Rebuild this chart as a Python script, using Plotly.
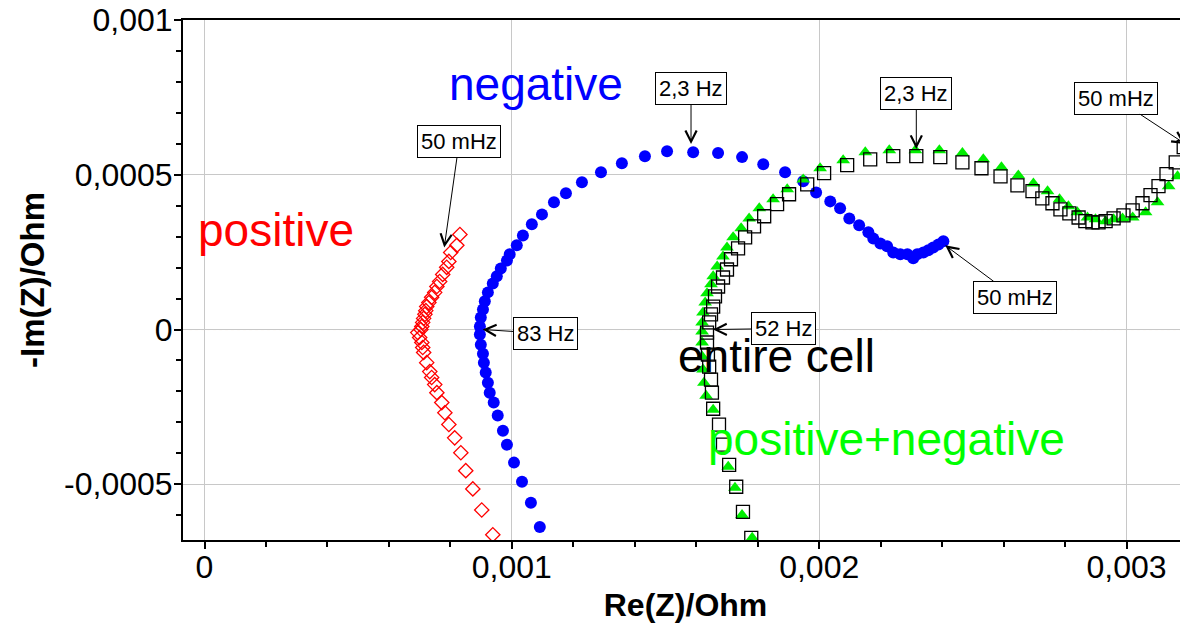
import numpy as np
import plotly.graph_objects as go

# ---- data, values in milli-Ohm ----
pos_re = [0.831, 0.821, 0.801, 0.795, 0.788, 0.775, 0.765, 0.756, 0.749, 0.739, 0.730,
          0.723, 0.720, 0.717, 0.713, 0.710, 0.707, 0.704, 0.694, 0.700, 0.707, 0.710,
          0.713, 0.723, 0.733, 0.739, 0.749, 0.756, 0.772, 0.782, 0.795, 0.814, 0.834,
          0.850, 0.873, 0.902, 0.938]
pos_im = [0.307, 0.272, 0.249, 0.220, 0.201, 0.178, 0.155, 0.139, 0.120, 0.104, 0.087,
          0.074, 0.061, 0.049, 0.036, 0.023, 0.010, 0.000, -0.010, -0.026, -0.042, -0.058,
          -0.074, -0.107, -0.136, -0.155, -0.178, -0.204, -0.236, -0.269, -0.307, -0.350, -0.398,
          -0.456, -0.515, -0.583, -0.663]

neg_re = [1.091, 1.062, 1.033, 1.007, 0.984, 0.971, 0.954, 0.941, 0.928, 0.922, 0.915,
          0.909, 0.906, 0.899, 0.896, 0.896, 0.899, 0.906, 0.912, 0.922, 0.938, 0.951,
          0.964, 0.984, 0.993, 1.016, 1.036, 1.065, 1.098, 1.137, 1.176, 1.228, 1.290,
          1.358, 1.433, 1.505, 1.590, 1.671, 1.749, 1.818, 1.889, 1.948, 1.990, 2.036,
          2.068, 2.098, 2.130, 2.160, 2.176, 2.199, 2.221, 2.241, 2.264, 2.287, 2.306,
          2.319, 2.339, 2.355, 2.371, 2.388, 2.404]
neg_im = [-0.638, -0.560, -0.492, -0.430, -0.372, -0.327, -0.278, -0.236, -0.204, -0.172, -0.139,
          -0.107, -0.078, -0.049, -0.016, 0.010, 0.039, 0.065, 0.091, 0.120, 0.149, 0.172,
          0.197, 0.223, 0.243, 0.272, 0.304, 0.340, 0.372, 0.411, 0.440, 0.476, 0.508,
          0.537, 0.560, 0.576, 0.573, 0.570, 0.557, 0.534, 0.508, 0.479, 0.443, 0.414,
          0.392, 0.359, 0.337, 0.314, 0.294, 0.278, 0.269, 0.249, 0.243, 0.243, 0.230,
          0.243, 0.249, 0.256, 0.265, 0.275, 0.285]

cell_re = [1.779, 1.752, 1.730, 1.707, 1.687, 1.674, 1.655, 1.651, 1.648, 1.642, 1.638,
           1.635, 1.635, 1.642, 1.648, 1.655, 1.661, 1.671, 1.687, 1.700, 1.713, 1.736,
           1.759, 1.788, 1.821, 1.863, 1.902, 1.961, 2.016, 2.091, 2.166, 2.241, 2.316,
           2.394, 2.466, 2.528, 2.590, 2.645, 2.694, 2.726, 2.759, 2.785, 2.814, 2.844,
           2.866, 2.889, 2.909, 2.932, 2.958, 2.990, 3.020, 3.052, 3.078, 3.104, 3.130,
           3.160, 3.186]
cell_im = [-0.673, -0.589, -0.508, -0.437, -0.372, -0.307, -0.256, -0.204, -0.162, -0.120, -0.081,
           -0.042, -0.010, 0.023, 0.049, 0.074, 0.107, 0.139, 0.168, 0.194, 0.227, 0.262,
           0.298, 0.333, 0.366, 0.405, 0.437, 0.469, 0.505, 0.531, 0.550, 0.560, 0.560,
           0.557, 0.540, 0.521, 0.495, 0.466, 0.447, 0.424, 0.408, 0.388, 0.375, 0.362,
           0.350, 0.346, 0.346, 0.350, 0.359, 0.369, 0.385, 0.408, 0.434, 0.463, 0.502,
           0.540, 0.589]

sum_re = [1.782, 1.749, 1.726, 1.704, 1.655, 1.632, 1.625, 1.622, 1.619, 1.619, 1.619,
          1.619, 1.622, 1.629, 1.635, 1.648, 1.655, 1.668, 1.687, 1.700, 1.720, 1.746,
          1.772, 1.805, 1.850, 1.896, 1.948, 2.003, 2.078, 2.150, 2.228, 2.313, 2.391,
          2.466, 2.534, 2.593, 2.648, 2.697, 2.743, 2.782, 2.811, 2.840, 2.873, 2.899,
          2.932, 2.958, 2.987, 3.020, 3.062, 3.101, 3.137, 3.166, 3.195]
sum_im = [-0.673, -0.599, -0.511, -0.443, -0.259, -0.214, -0.172, -0.129, -0.087, -0.042, -0.006,
          0.023, 0.055, 0.087, 0.117, 0.146, 0.172, 0.204, 0.236, 0.265, 0.298, 0.327,
          0.359, 0.392, 0.421, 0.453, 0.485, 0.521, 0.547, 0.573, 0.579, 0.579, 0.579,
          0.570, 0.550, 0.524, 0.498, 0.472, 0.447, 0.421, 0.398, 0.379, 0.362, 0.356,
          0.350, 0.356, 0.359, 0.362, 0.379, 0.411, 0.463, 0.495, 0.540]

x_tickvals = [0, 0.001, 0.002, 0.003]
x_ticktext = ["0", "0,001", "0,002", "0,003"]
y_tickvals = [-0.0005, 0, 0.0005, 0.001]
y_ticktext = ["-0,0005", "0", "0,0005", "0,001"]

# frequency labels: (text, Re, -Im in milli-Ohm of arrow tip, box offset px)
freq_labels = [
    ("50 mHz", 0.780, 0.265, 15, -106),
    ("83 Hz", 0.905, 0.000, 63, 4),
    ("2,3 Hz", 1.583, 0.599, 0, -56),
    ("2,3 Hz", 2.316, 0.583, 0, -56),
    ("52 Hz", 1.655, 0.000, 70, -1),
    ("50 mHz", 2.410, 0.272, 70, 52),
    ("50 mHz", 3.192, 0.599, -70, -46),
]
series_labels = [
    ("positive", 0.233, 0.320, "#ff0000"),
    ("negative", 1.077, 0.793, "#0000ff"),
    ("entire cell", 1.860, -0.087, "#000000"),
    ("positive+negative", 2.218, -0.353, "#00ff00"),
]

m = 1e-3
FONT = "Liberation Sans, Arial, sans-serif"

fig = go.Figure()
fig.add_trace(go.Scatter(x=np.array(pos_re) * m, y=np.array(pos_im) * m, mode="markers",
                         marker=dict(symbol="diamond-open", size=11, color="#ff0000",
                                     line=dict(width=1.3, color="#ff0000"))))
fig.add_trace(go.Scatter(x=np.array(neg_re) * m, y=np.array(neg_im) * m, mode="markers",
                         marker=dict(symbol="circle", size=12, color="#0000ff",
                                     line=dict(width=0))))
fig.add_trace(go.Scatter(x=np.array(sum_re) * m, y=np.array(sum_im) * m, mode="markers",
                         marker=dict(symbol="triangle-up", size=12, color="#00ee00",
                                     line=dict(width=0))))
fig.add_trace(go.Scatter(x=np.array(cell_re) * m, y=np.array(cell_im) * m, mode="markers",
                         marker=dict(symbol="square-open", size=13, color="#000000",
                                     line=dict(width=1.3, color="#000000"))))

# zero reference lines (dotted orange)
fig.add_shape(type="line", xref="x", yref="paper", x0=0, x1=0, y0=0, y1=1,
              line=dict(color="#f08020", width=1, dash="dot"), layer="below")
fig.add_shape(type="line", xref="paper", yref="y", x0=0, x1=1, y0=0, y1=0,
              line=dict(color="#f08020", width=1, dash="dot"), layer="below")

for text, xr, yi, ax, ay in freq_labels:
    fig.add_annotation(x=xr * m, y=yi * m, xref="x", yref="y", ax=ax, ay=ay, text=text,
                       showarrow=True, font=dict(family=FONT, size=22, color="black"),
                       borderpad=3, borderwidth=1, bgcolor="white", bordercolor="black",
                       arrowcolor="black", arrowhead=5, arrowsize=2.2, arrowwidth=1)

for text, xr, yi, col in series_labels:
    fig.add_annotation(x=xr * m, y=yi * m, xref="x", yref="y", text=text, showarrow=False,
                       font=dict(family=FONT, size=46, color=col))

axis_common = dict(showline=True, linecolor="black", linewidth=2, ticks="outside",
                   ticklen=7, tickwidth=1.5, tickcolor="black", showgrid=True,
                   gridcolor="#c8c8c8", gridwidth=1, zeroline=False, automargin=False,
                   ticklabeloverflow="allow",
                   tickfont=dict(family=FONT, size=32, color="black"))
fig.update_xaxes(**axis_common, range=[-0.00007, 0.0032], tickvals=x_tickvals,
                 ticktext=x_ticktext, mirror=True, ticklabelstandoff=-9,
                 minor=dict(dtick=0.0002, tick0=0, ticks="outside", ticklen=5,
                            tickcolor="black", showgrid=False),
                 title=dict(text="<b>Re(Z)/Ohm</b>", font=dict(family=FONT, size=32, color="black"),
                            standoff=9))
fig.update_yaxes(**axis_common, range=[-0.00068, 0.001], tickvals=y_tickvals,
                 ticktext=y_ticktext, ticklabelstandoff=-5,
                 minor=dict(dtick=0.0001, tick0=0, ticks="outside", ticklen=5,
                            tickcolor="black", showgrid=False),
                 title=dict(text="<b>-Im(Z)/Ohm</b>", font=dict(family=FONT, size=33, color="black"),
                            standoff=10))

# page body adds an 8px margin, so the margins are reduced to compensate
fig.update_layout(width=1188, height=623, showlegend=False,
                  margin=dict(l=175, r=8, t=12, b=91),
                  plot_bgcolor="white", paper_bgcolor="white",
                  font=dict(family=FONT, color="black"))

fig.write_html("out.html")
